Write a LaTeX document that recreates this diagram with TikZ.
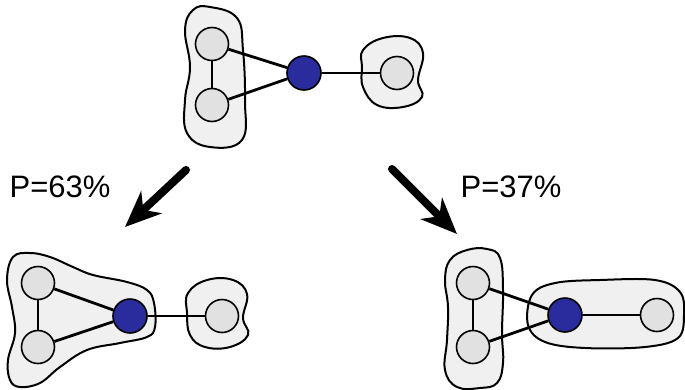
\documentclass[tikz,border=0pt]{standalone}
\usepackage{fontspec}
\setmainfont{Liberation Sans}
\usetikzlibrary{arrows.meta}
\definecolor{blobfill}{RGB}{240,240,240}
\definecolor{nodefill}{RGB}{225,225,225}
\definecolor{hub}{RGB}{42,44,158}
\tikzset{
  blob/.style={draw=black, fill=blobfill, line width=2pt},
  leaf/.style={circle, draw=black, fill=nodefill, line width=1.6pt, minimum size=33pt, inner sep=0pt},
  hubnode/.style={circle, draw=black, fill=hub, line width=1.6pt, minimum size=34pt, inner sep=0pt},
  link/.style={line width=2.8pt},
  bigarrow/.style={line width=8pt, line cap=round, -{Stealth[length=36pt, width=30pt, inset=11pt]}},
  plabel/.style={font=\fontsize{31}{36}\selectfont, inner sep=0pt}
}
\begin{document}
\begin{tikzpicture}[x=1pt, y=-1pt]
\useasboundingbox (0,0) rectangle (685,389);

% ---------- top graph ----------
\draw[blob] plot[smooth cycle, tension=0.7] coordinates {
  (193,10) (210,7) (237,18) (243,50) (245,100) (242,140) (210,147)
  (187,133) (185,100) (190,67) (185,30)};
\draw[blob] plot[smooth cycle, tension=0.7] coordinates {
  (363,50) (383,38) (410,38) (423,53) (418,80) (422,97) (403,107)
  (377,105) (363,87) (362,67)};
\node[leaf] (t1) at (212,44) {};
\node[leaf] (t2) at (212,105) {};
\node[hubnode] (th) at (304,73) {};
\node[leaf] (t3) at (397,73) {};
\draw[link] (t1) -- (t2);
\draw[link] (t1) -- (th);
\draw[link] (t2) -- (th);
\draw[link] (th) -- (t3);

% ---------- bottom left graph ----------
\draw[blob] plot[smooth cycle, tension=0.65] coordinates {
  (13,257) (30,253) (50,257) (73,267) (93,275) (127,282) (147,290)
  (154,303) (155,327) (147,337) (120,343) (87,350) (60,367) (40,383)
  (20,387) (10,380) (8,360) (15,333) (12,307) (7,280)};
\draw[blob] plot[smooth cycle, tension=0.7] coordinates {
  (188,293) (207,280) (233,280) (247,294) (243,318) (248,335) (230,347)
  (205,347) (190,335) (187,313)};
\node[leaf] (l1) at (38,283) {};
\node[leaf] (l2) at (38,347) {};
\node[hubnode] (lh) at (130,316) {};
\node[leaf] (l3) at (222,316) {};
\draw[link] (l1) -- (l2);
\draw[link] (l1) -- (lh);
\draw[link] (l2) -- (lh);
\draw[link] (lh) -- (l3);

% ---------- bottom right graph ----------
\draw[blob] plot[smooth cycle, tension=0.7] coordinates {
  (450,260) (467,250) (487,249) (500,258) (503,290) (502,333) (503,363)
  (497,383) (480,388) (457,387) (445,370) (447,340) (448,307) (445,280)};
\draw[blob] plot[smooth cycle, tension=0.6] coordinates {
  (532,295) (555,283) (600,280) (655,280) (680,292) (684,315) (678,338)
  (645,347) (585,348) (545,342) (528,325)};
\node[leaf] (r1) at (473,283) {};
\node[leaf] (r2) at (473,347) {};
\node[hubnode] (rh) at (565,315) {};
\node[leaf] (r3) at (657,315) {};
\draw[link] (r1) -- (r2);
\draw[link] (r1) -- (rh);
\draw[link] (r2) -- (rh);
\draw[link] (rh) -- (r3);

% ---------- transition arrows ----------
\coordinate (la) at (186,170);
\coordinate (lb) at (125,227);
\coordinate (ra) at (392,169);
\coordinate (rb) at (457,234);
\draw[bigarrow] (la) -- (lb);
\draw[bigarrow] (ra) -- (rb);
\node[plabel] (p1) at (60,187) {P=63\%};
\node[plabel] (p2) at (511,187) {P=37\%};
\end{tikzpicture}
\end{document}
